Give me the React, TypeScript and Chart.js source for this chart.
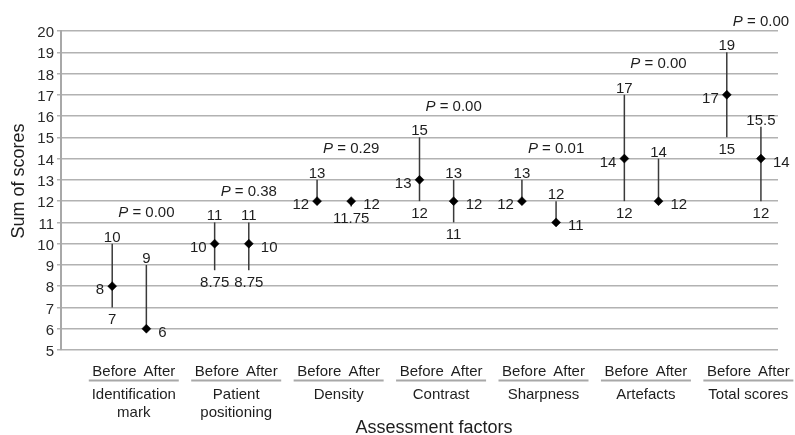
import { useEffect, useRef } from "react";
import { Chart, registerables } from "chart.js";

Chart.register(...registerables);

// ---- data ----
const categories: string[][] = [
  ["Identification", "mark"],
  ["Patient", "positioning"],
  ["Density"],
  ["Contrast"],
  ["Sharpness"],
  ["Artefacts"],
  ["Total scores"],
];
const phaseLabels = ["Before", "After"];
const beforeMedian = [8, 10, 12, 13, 12, 14, 17];
const beforeHigh = [10, 11, 13, 15, 13, 17, 19];
const beforeLow = [7, 8.75, 12, 12, 12, 12, 15];
const afterMedian = [6, 10, 12, 12, 11, 12, 14];
const afterHigh = [9, 11, 12, 13, 12, 14, 15.5];
const afterLow = [6, 8.75, 11.75, 11, 11, 12, 12];
const pValues = ["0.00", "0.38", "0.29", "0.00", "0.01", "0.00", "0.00"];
const yMin = 5;
const yMax = 20;
const yTitle = "Sum of scores";
const xTitle = "Assessment factors";

const FONT = '"Liberation Sans", Arial, Helvetica, sans-serif';
const TEXT = "#1e1e1e";
const SLOTS = 3; // before, after, gap

type Item = { g: number; phase: number; pos: number; med: number; hi: number; lo: number };
const items: Item[] = [];
categories.forEach((_, g) => {
  items.push({ g, phase: 0, pos: g * SLOTS + 1.5, med: beforeMedian[g], hi: beforeHigh[g], lo: beforeLow[g] });
  items.push({ g, phase: 1, pos: g * SLOTS + 2.5, med: afterMedian[g], hi: afterHigh[g], lo: afterLow[g] });
});

const annotatePlugin = {
  id: "annotate",
  beforeDatasetsDraw(chart: any) {
    const { ctx, scales } = chart;
    const x = scales.x, y = scales.y;
    ctx.save();
    ctx.strokeStyle = "#3a3a3a";
    ctx.lineWidth = 1.5;
    items.forEach((it) => {
      const px = x.getPixelForValue(it.pos);
      ctx.beginPath();
      ctx.moveTo(px, y.getPixelForValue(it.lo));
      ctx.lineTo(px, y.getPixelForValue(it.hi));
      ctx.stroke();
    });
    ctx.restore();
  },
  afterDatasetsDraw(chart: any) {
    const { ctx, scales } = chart;
    const x = scales.x, y = scales.y;
    ctx.save();
    ctx.fillStyle = TEXT;
    ctx.font = `15px ${FONT}`;
    ctx.textBaseline = "alphabetic";
    items.forEach((it) => {
      const px = x.getPixelForValue(it.pos);
      if (it.hi !== it.med) {
        ctx.textAlign = "center";
        ctx.fillText(String(it.hi), px, y.getPixelForValue(it.hi) - 2);
      }
      if (it.lo !== it.med) {
        ctx.textAlign = "center";
        ctx.fillText(String(it.lo), px, y.getPixelForValue(it.lo) + 17);
      }
      const my = y.getPixelForValue(it.med) + 8;
      if (it.phase === 0) {
        ctx.textAlign = "right";
        ctx.fillText(String(it.med), px - 8, my);
      } else {
        ctx.textAlign = "left";
        ctx.fillText(String(it.med), px + 12, my);
      }
    });
    // P values
    categories.forEach((_, g) => {
      const px = x.getPixelForValue(g * SLOTS + 2.5);
      const top = Math.max(beforeHigh[g], afterHigh[g]) + 1.5;
      const py = y.getPixelForValue(top) + 5.5;
      const rest = " = " + pValues[g];
      ctx.font = `italic 15px ${FONT}`;
      const wP = ctx.measureText("P").width;
      ctx.font = `15px ${FONT}`;
      const wR = ctx.measureText(rest).width;
      const sx = px - (wP + wR) / 2;
      ctx.textAlign = "left";
      ctx.font = `italic 15px ${FONT}`;
      ctx.fillText("P", sx, py);
      ctx.font = `15px ${FONT}`;
      ctx.fillText(rest, sx + wP, py);
    });
    ctx.restore();
  },
  afterDraw(chart: any) {
    const { ctx, scales, chartArea } = chart;
    const x = scales.x;
    ctx.save();
    ctx.fillStyle = TEXT;
    ctx.textBaseline = "alphabetic";
    categories.forEach((lines, g) => {
      const c = (x.getPixelForValue(g * SLOTS + 1.5) + x.getPixelForValue(g * SLOTS + 2.5)) / 2 + 4.5;
      ctx.font = `15px ${FONT}`;
      const gap = 7;
      const wB = ctx.measureText(phaseLabels[0]).width;
      const wA = ctx.measureText(phaseLabels[1]).width;
      const total = wB + gap + wA;
      const sx = c - total / 2;
      ctx.textAlign = "left";
      ctx.fillText(phaseLabels[0], sx, 376);
      ctx.fillText(phaseLabels[1], sx + wB + gap, 376);
      ctx.strokeStyle = "#a8a8a8";
      ctx.lineWidth = 2;
      ctx.beginPath();
      ctx.moveTo(c - 45, 380.5);
      ctx.lineTo(c + 45, 380.5);
      ctx.stroke();
      ctx.textAlign = "center";
      lines.forEach((ln, i) => {
        ctx.fillText(ln, c, 399 + i * 17.5);
      });
    });
    // axis titles
    ctx.font = `18px ${FONT}`;
    ctx.textAlign = "center";
    ctx.fillText(xTitle, 434, 433);
    ctx.save();
    ctx.translate(24, 181);
    ctx.rotate(-Math.PI / 2);
    ctx.fillText(yTitle, 0, 0);
    ctx.restore();
    ctx.restore();
  },
};

export default function App() {
  const ref = useRef<HTMLCanvasElement | null>(null);
  useEffect(() => {
    document.body.style.margin = "0";
    if (!ref.current) return;
    const chart = new Chart(ref.current, {
      type: "scatter",
      data: {
        datasets: [
          {
            data: items.map((it) => ({ x: it.pos, y: it.med })),
            pointStyle: "rectRot",
            pointRadius: 4.5,
            pointHoverRadius: 4.5,
            pointBackgroundColor: "#000",
            pointBorderColor: "#000",
            pointBorderWidth: 0.5,
            showLine: false,
          },
        ],
      },
      options: {
        animation: false,
        responsive: false,
        events: [],
        layout: { padding: { left: 0, top: 31, right: 17, bottom: 85 } },
        plugins: { legend: { display: false }, tooltip: { enabled: false } },
        scales: {
          x: { type: "linear", min: 0, max: categories.length * SLOTS, display: false },
          y: {
            type: "linear",
            min: yMin,
            max: yMax,
            afterFit: (s: any) => {
              s.width = 61;
            },
            ticks: {
              stepSize: 1,
              color: "#2a2a2a",
              font: { family: FONT, size: 15 },
              padding: 3,
              labelOffset: 2,
            },
            grid: { color: "#b2b2b2", lineWidth: 1.5, tickLength: 4, drawTicks: true },
            border: { display: true, color: "#a8a8a8", width: 2 },
          },
        },
      },
      plugins: [annotatePlugin],
    });
    return () => chart.destroy();
  }, []);
  return <canvas ref={ref} width={795} height={435} style={{ display: "block" }} />;
}
